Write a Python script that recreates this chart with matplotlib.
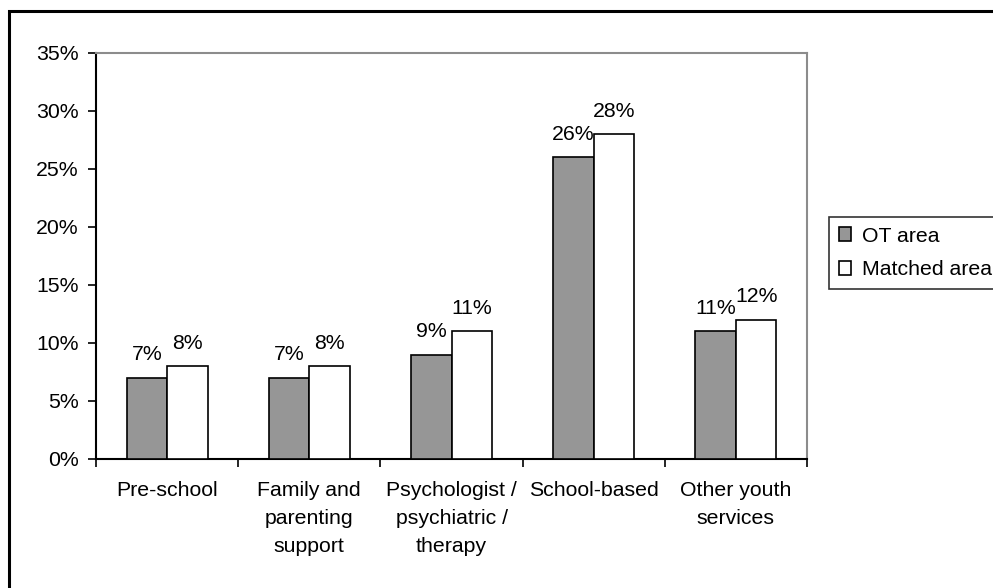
import matplotlib.pyplot as plt
import numpy as np
from matplotlib.patches import Rectangle

plt.rcParams['font.family'] = ['Liberation Sans', 'DejaVu Sans']

categories = ['Pre-school', 'Family and\nparenting\nsupport',
              'Psychologist /\npsychiatric /\ntherapy', 'School-based',
              'Other youth\nservices']
ot_area = [7, 7, 9, 26, 11]
matched_area = [8, 8, 11, 28, 12]
series_names = ['OT area', 'Matched area']
yticks = [0, 5, 10, 15, 20, 25, 30, 35]

FS = 15.3

fig = plt.figure(figsize=(9.93, 5.88), dpi=100)
ax = fig.add_axes([96 / 993, 1 - 459 / 588, 711 / 993, 406 / 588])

# outer chart border, runs past the right and bottom edges
fig.patches.append(Rectangle((9 / 993, -0.1), 1.2, 1 - 11 / 588 + 0.1,
                             transform=fig.transFigure, fill=False,
                             edgecolor='black', linewidth=2.2, zorder=0))

x = np.arange(len(categories))
w = 0.285
b1 = ax.bar(x - w / 2, ot_area, w, color='#969696', edgecolor='black',
            linewidth=1.2, label=series_names[0], zorder=3)
b2 = ax.bar(x + w / 2, matched_area, w, color='white', edgecolor='black',
            linewidth=1.2, label=series_names[1], zorder=3)

for bars, vals in ((b1, ot_area), (b2, matched_area)):
    for rect, v in zip(bars, vals):
        ax.annotate('%d%%' % v, (rect.get_x() + rect.get_width() / 2, v),
                    xytext=(0, 12.5), textcoords='offset points',
                    ha='center', va='baseline', fontsize=FS)

ax.set_xlim(-0.5, len(categories) - 0.5)
ax.set_ylim(0, 35)
ax.set_yticks(yticks)
ax.set_yticklabels(['%d%%' % t for t in yticks], fontsize=FS)
ax.tick_params(axis='y', direction='out', length=5.5, width=1.2, pad=7)

# boundary ticks on the x axis, labels sit between them
ax.set_xticks(np.arange(-0.5, len(categories), 1.0))
ax.set_xticklabels([])
ax.set_xticks(x, minor=True)
ax.set_xticklabels(categories, minor=True, fontsize=FS, linespacing=1.6,
                   va='top', ha='center')
ax.tick_params(axis='x', which='major', direction='out', length=5.5, width=1.2)
ax.tick_params(axis='x', which='minor', length=0, pad=16)

for s in ('top', 'right'):
    ax.spines[s].set_color('#8c8c8c')
    ax.spines[s].set_linewidth(1.5)
for s in ('left', 'bottom'):
    ax.spines[s].set_color('black')
    ax.spines[s].set_linewidth(1.5)

leg = fig.legend(handles=[b1, b2], labels=series_names, loc='upper left',
                 bbox_to_anchor=(829 / 993, 1 - 217 / 588),
                 bbox_transform=fig.transFigure, borderaxespad=0,
                 fontsize=FS, frameon=True, fancybox=False,
                 handlelength=0.6, handleheight=0.6, handletextpad=0.5,
                 labelspacing=0.7, borderpad=0.45)
leg.get_frame().set_edgecolor('black')
leg.get_frame().set_linewidth(1.2)

fig.savefig('out.png', dpi=100)
